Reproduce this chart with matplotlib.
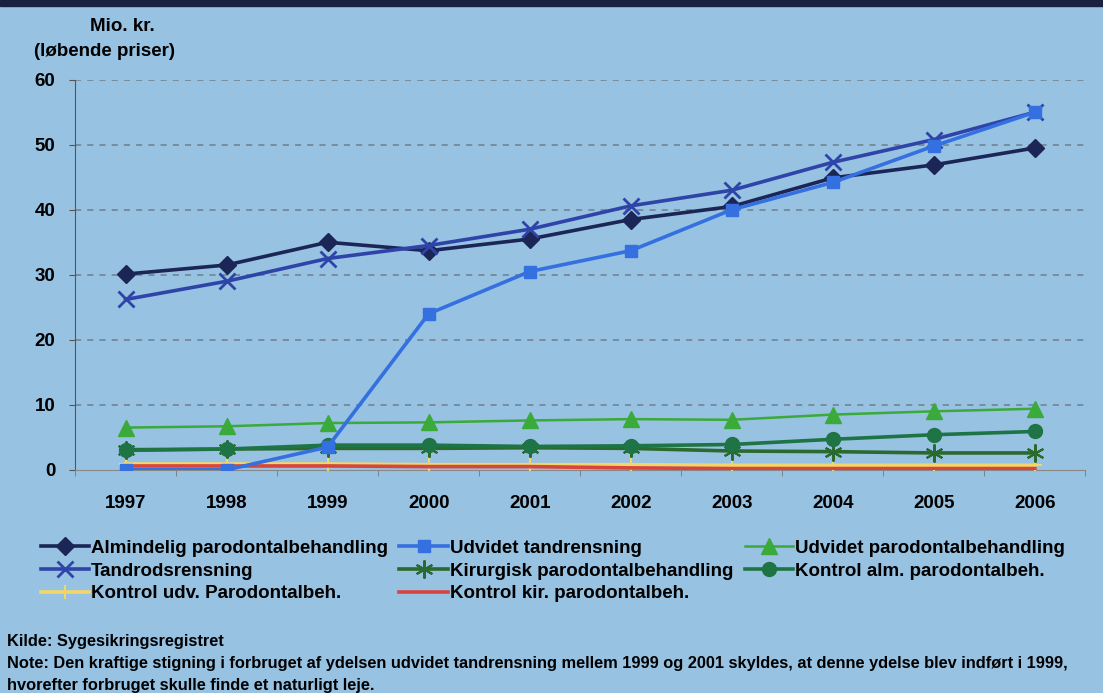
import matplotlib
matplotlib.use("Agg")
import matplotlib.pyplot as plt
from matplotlib.patches import Rectangle

years = ["1997", "1998", "1999", "2000", "2001", "2002", "2003", "2004", "2005", "2006"]
almindelig = [30.1, 31.5, 35.0, 33.7, 35.5, 38.5, 40.5, 44.9, 46.9, 49.5]
udv_tandrens = [0.0, 0.0, 3.5, 24.0, 30.5, 33.7, 40.0, 44.2, 49.8, 55.0]
udv_parodontal = [6.5, 6.7, 7.2, 7.3, 7.6, 7.8, 7.7, 8.5, 9.0, 9.4]
tandrods = [26.2, 29.0, 32.5, 34.5, 37.0, 40.6, 43.0, 47.3, 50.8, 55.0]
kirurgisk = [3.1, 3.2, 3.3, 3.3, 3.4, 3.3, 2.9, 2.8, 2.6, 2.6]
kontrol_alm = [3.0, 3.2, 3.8, 3.8, 3.6, 3.7, 3.9, 4.7, 5.4, 5.9]
kontrol_udv = [0.9, 0.9, 0.9, 0.8, 0.8, 0.8, 0.7, 0.7, 0.7, 0.7]
kontrol_kir = [0.6, 0.6, 0.6, 0.5, 0.5, 0.3, 0.2, 0.2, 0.2, 0.2]
yticks = [0, 10, 20, 30, 40, 50, 60]

plt.rcParams['font.family'] = ['Liberation Sans', 'DejaVu Sans']
bg = '#97c2e2'
fig = plt.figure(figsize=(11.03, 6.93), dpi=100, facecolor=bg)
ax = fig.add_axes([0.068, 0.322, 0.916, 0.563], facecolor=bg)

x = list(range(len(years)))
series = [
    ("Almindelig parodontalbehandling", almindelig, '#1c2656', 'D', 9, 1),
    ("Tandrodsrensning", tandrods, '#2f44a8', 'x', 12, 2),
    ("Kontrol udv. Parodontalbeh.", kontrol_udv, '#f2d66a', '+', 10, 1.5),
    ("Udvidet tandrensning", udv_tandrens, '#3470e0', 's', 9, 1),
    ("Kirurgisk parodontalbehandling", kirurgisk, '#2a6a2e', (6, 2, 0), 13, 1.5),
    ("Kontrol kir. parodontalbeh.", kontrol_kir, '#d8453c', None, 0, 1),
    ("Udvidet parodontalbehandling", udv_parodontal, '#3aaa3a', '^', 11, 1),
    ("Kontrol alm. parodontalbeh.", kontrol_alm, '#1f7446', 'o', 10, 1),
]
zorder = {"Almindelig parodontalbehandling": 5, "Tandrodsrensning": 6, "Udvidet tandrensning": 7}
handles = []
for name, vals, col, mk, ms, mew in series:
    lw = 2.6 if name not in ("Udvidet parodontalbehandling",) else 1.8
    h, = ax.plot(x, vals, color=col, marker=mk, markersize=ms, markeredgewidth=mew,
                 markeredgecolor=col, lw=lw, label=name, zorder=zorder.get(name, 3))
    handles.append(h)

ax.set_xlim(-0.47, 9.49)
ax.set_ylim(0, 60)
ax.set_yticks(yticks)
ax.set_yticklabels([str(v) for v in yticks], fontsize=13.5, fontweight='bold')
ax.set_xticks(x)
ax.set_xticklabels(years, fontsize=13.5, fontweight='bold')
ax.set_xticks([i + 0.5 for i in range(-1, 10)], minor=True)
ax.tick_params(axis='x', which='major', length=0, pad=18)
ax.tick_params(axis='x', which='minor', length=4, color='#777777')
ax.tick_params(axis='y', length=4, color='#555555', pad=10)
for yv in yticks[1:]:
    ax.axhline(yv, color='#6f7f8a', lw=1.1, ls=(0, (4, 4)), zorder=1)
for s in ['top', 'right']:
    ax.spines[s].set_visible(False)
ax.spines['left'].set_color('#555555')
ax.spines['bottom'].set_color('#888888')

fig.text(0.082, 0.962, "Mio. kr.", fontsize=13.5, fontweight='bold', ha='left', va='center')
fig.text(0.031, 0.926, "(løbende priser)", fontsize=13.5, fontweight='bold', ha='left', va='center')

leg = fig.legend(handles=handles, ncol=3, loc='upper left', bbox_to_anchor=(0.03, 0.232),
                 frameon=False, fontsize=13.5, handlelength=2.6, handletextpad=0.1,
                 columnspacing=0.6, labelspacing=0.3, borderaxespad=0)
for t in leg.get_texts():
    t.set_fontweight('bold')

fig.text(0.006, 0.074, "Kilde: Sygesikringsregistret", fontsize=11.8, fontweight='bold', ha='left', va='center')
fig.text(0.006, 0.043, "Note: Den kraftige stigning i forbruget af ydelsen udvidet tandrensning mellem 1999 og 2001 skyldes, at denne ydelse blev indført i 1999,",
         fontsize=11.8, fontweight='bold', ha='left', va='center')
fig.text(0.006, 0.011, "hvorefter forbruget skulle finde et naturligt leje.", fontsize=11.8, fontweight='bold', ha='left', va='center')

fig.patches.append(Rectangle((0, 0.992), 1, 0.008, transform=fig.transFigure, color='#1a2040', zorder=0))

fig.savefig("out.png", dpi=100, facecolor=bg)
